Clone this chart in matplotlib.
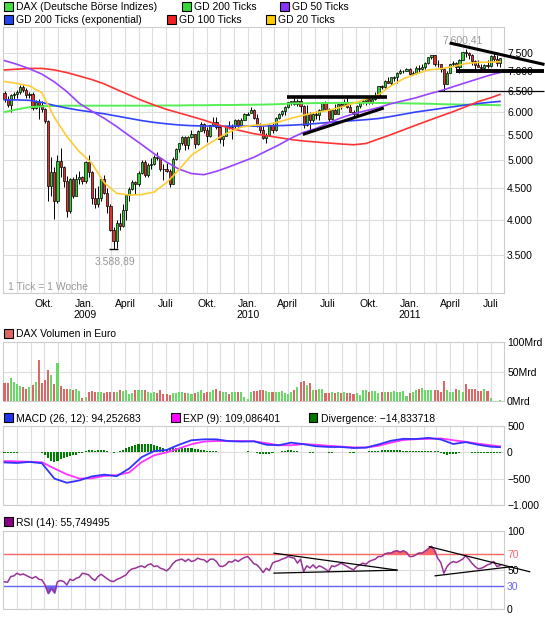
import numpy as np
import pandas as pd
import matplotlib
matplotlib.use('Agg')
import matplotlib.pyplot as plt
import matplotlib.dates as mdates
from matplotlib.patches import Rectangle

plt.rcParams['font.family'] = ['Liberation Sans', 'DejaVu Sans']
plt.rcParams['font.size'] = 7.5

# weekly DAX candles, first week ends 2008-07-04
opens = np.array([
    6440, 6290, 6170, 6390, 6410, 6480, 6600, 6520, 6400, 6420,
    6100, 6230, 6150, 6060, 5800, 4544, 4782, 4296, 4988, 4880,
    4630, 4127, 4669, 4381, 4660, 4697, 4629, 4973, 4783, 4335,
    4243, 4339, 4666, 4427, 4216, 3844, 3695, 3953, 3901, 4143,
    4384, 4486, 4606, 4570, 4770, 4967, 4738, 4917, 4940, 5064,
    5052, 4839, 4838, 4806, 4576, 5028, 5229, 5332, 5455, 5309,
    5462, 5517, 5318, 5592, 5736, 5604, 5488, 5711, 5784, 5673,
    5414, 5488, 5687, 5663, 5686, 5817, 5709, 5831, 5940, 5975,
    6037, 5875, 5696, 5608, 5434, 5500, 5722, 5598, 5877, 5945,
    6017, 6121, 6236, 6250, 6180, 6259, 6136, 5716, 5947, 5829,
    5960, 5938, 6049, 6216, 6071, 5835, 6048, 5959, 6179, 6170,
    6225, 6111, 6006, 5951, 6135, 6219, 6247, 6299, 6212, 6299,
    6378, 6620, 6601, 6750, 6693, 6830, 6849, 6947, 6990, 7008,
    7057, 6914, 6948, 7090, 7062, 7102, 7217, 7371, 7426, 7200,
    7178, 7064, 6664, 6947, 7176, 7217, 7110, 7296, 7514, 7492,
    7437, 7280, 7163, 7109, 7070, 7164, 7122, 7420, 7320, 7220])
highs = np.array([
    6500, 6380, 6420, 6480, 6520, 6640, 6650, 6560, 6470, 6480,
    6280, 6300, 6260, 6100, 5830, 5062, 4870, 5100, 5240, 4900,
    4720, 4680, 4700, 4750, 4800, 4720, 4990, 5111, 4800, 4500,
    4550, 4700, 4730, 4500, 4250, 3890, 4000, 4100, 4250, 4400,
    4520, 4650, 4620, 4800, 5010, 5000, 4950, 5050, 5100, 5160,
    5070, 4940, 4960, 4840, 5060, 5240, 5350, 5480, 5480, 5490,
    5600, 5530, 5600, 5780, 5760, 5680, 5720, 5890, 5880, 5700,
    5500, 5700, 5800, 5730, 5850, 5840, 5860, 5970, 6010, 6110,
    6080, 5950, 5760, 5690, 5550, 5730, 5750, 5890, 5970, 6050,
    6130, 6240, 6260, 6340, 6290, 6340, 6170, 6170, 6000, 6000,
    6030, 6070, 6240, 6250, 6090, 6080, 6180, 6190, 6200, 6300,
    6380, 6180, 6050, 6160, 6250, 6290, 6320, 6320, 6320, 6460,
    6620, 6640, 6770, 6850, 6850, 6860, 6970, 7050, 7030, 7080,
    7077, 7010, 7140, 7150, 7180, 7240, 7380, 7440, 7430, 7290,
    7200, 7070, 6990, 7190, 7260, 7240, 7320, 7530, 7600, 7530,
    7470, 7300, 7300, 7190, 7180, 7300, 7430, 7520, 7430, 7360])
lows = np.array([
    6240, 6120, 6000, 6300, 6330, 6430, 6480, 6330, 6330, 6040,
    6060, 5850, 6000, 5750, 4300, 4380, 4014, 4260, 4700, 4520,
    4040, 4100, 4350, 4380, 4580, 4580, 4600, 4700, 4250, 4180,
    4200, 4300, 4400, 4100, 3830, 3589, 3600, 3850, 3900, 3990,
    4300, 4470, 4400, 4550, 4750, 4700, 4690, 4850, 4920, 5000,
    4800, 4650, 4780, 4520, 4570, 5000, 5160, 5300, 5210, 5220,
    5450, 5250, 5300, 5580, 5540, 5370, 5460, 5700, 5620, 5350,
    5290, 5480, 5620, 5420, 5660, 5640, 5680, 5820, 5930, 5970,
    5850, 5670, 5540, 5420, 5340, 5490, 5550, 5590, 5840, 5920,
    5930, 6100, 6160, 6170, 6130, 6010, 5650, 5700, 5600, 5780,
    5850, 5820, 6040, 6060, 5800, 5820, 5950, 5950, 6080, 6140,
    6090, 5990, 5880, 5930, 6090, 6180, 6150, 6180, 6180, 6280,
    6330, 6540, 6560, 6690, 6640, 6740, 6700, 6930, 6950, 6990,
    6900, 6900, 6920, 6980, 7020, 7060, 7200, 7320, 7130, 7110,
    6980, 6500, 6660, 6940, 7140, 7020, 6950, 7290, 7380, 7330,
    7160, 7060, 7100, 7040, 7010, 7080, 7110, 7280, 7140, 7120])
closes = np.array([
    6290, 6170, 6390, 6410, 6480, 6590, 6520, 6400, 6420, 6100,
    6230, 6150, 6060, 5800, 4544, 4782, 4296, 4988, 4880, 4630,
    4127, 4669, 4381, 4660, 4697, 4629, 4973, 4783, 4335, 4243,
    4339, 4666, 4427, 4216, 3844, 3695, 3953, 3901, 4143, 4384,
    4486, 4606, 4570, 4770, 4967, 4738, 4917, 4940, 5064, 5052,
    4839, 4838, 4806, 4576, 5028, 5229, 5332, 5455, 5309, 5462,
    5517, 5318, 5592, 5736, 5604, 5488, 5711, 5784, 5673, 5414,
    5488, 5687, 5663, 5686, 5817, 5709, 5831, 5957, 5957, 6037,
    5875, 5696, 5608, 5434, 5500, 5722, 5598, 5877, 5945, 6017,
    6121, 6236, 6250, 6180, 6259, 6136, 5716, 5947, 5829, 5947,
    5938, 6049, 6216, 6071, 5835, 6048, 5959, 6179, 6148, 6225,
    6111, 6006, 5951, 6135, 6219, 6247, 6299, 6212, 6299, 6378,
    6605, 6601, 6750, 6693, 6848, 6849, 6947, 7007, 7008, 7057,
    6914, 6948, 7076, 7062, 7102, 7217, 7371, 7426, 7185, 7178,
    7064, 6664, 6947, 7176, 7217, 7110, 7296, 7514, 7492, 7437,
    7280, 7163, 7109, 7070, 7164, 7122, 7419, 7320, 7220, 7344])

# volume in Mrd Euro
volume = np.array([
    30, 30, 39, 33, 28, 25, 24, 21, 23, 27,
    32, 69, 31, 35, 52, 44, 28, 64, 25, 21,
    20, 20, 18, 20, 17, 5.6, 6.8, 15, 16.4, 15.3,
    14.7, 14.7, 13.5, 15.3, 15.3, 14.7, 14.7, 18, 16.4, 18,
    12.4, 13.5, 18, 18, 19, 18, 14.7, 13.5, 14.7, 14,
    18.6, 12.4, 11.9, 9.6, 13.5, 14, 15.3, 14.7, 13, 13.5,
    12.4, 13, 15.3, 19, 13.5, 15.3, 14.7, 18, 19.8, 17.5,
    15.3, 14.7, 12.4, 15.8, 15.8, 15.8, 15.8, 6.8, 2.8, 14.7,
    16.4, 16.4, 19, 19, 16.4, 15.8, 15.8, 14.7, 14.7, 17.5,
    13.5, 11.3, 14.7, 18, 23.7, 32, 33.9, 26.5, 30, 19.2,
    19.2, 20, 20, 13.5, 13.5, 15.8, 14, 14.7, 14, 14.7,
    14, 13, 11.9, 13, 10.7, 18, 18, 15.3, 16.9, 16.9,
    13.5, 14.7, 15.8, 15.8, 14.7, 16.4, 15.8, 14.7, 16.4, 7.9,
    14, 14.7, 19, 20.9, 22, 19, 18, 18, 18, 18,
    15.3, 33.9, 18, 15.8, 15.3, 20.9, 18, 15.3, 28, 20.3,
    20.3, 20.3, 17.5, 17.5, 20, 17, 5.6, 0, 0, 2.3])

# moving averages and MACD read every 4th week
ma_idx = list(range(0, 160, 4)) + [159]
gd200 = [6000, 6060, 6110, 6130, 6140, 6145, 6145, 6145, 6145, 6145,
         6145, 6145, 6145, 6150, 6150, 6155, 6155, 6160, 6160, 6165,
         6168, 6172, 6180, 6195, 6200, 6205, 6208, 6210, 6210, 6210,
         6208, 6205, 6200, 6195, 6190, 6180, 6175, 6170, 6165, 6160, 6155]
gd200_exp = [6280, 6280, 6270, 6220, 6150, 6090, 6040, 6000, 5960, 5910,
             5860, 5810, 5770, 5740, 5715, 5700, 5692, 5690, 5690, 5690,
             5690, 5695, 5700, 5710, 5725, 5745, 5770, 5790, 5810, 5830,
             5855, 5900, 5950, 6000, 6040, 6080, 6120, 6160, 6195, 6225, 6245]
gd100 = [7030, 7050, 7070, 7070, 7030, 6960, 6870, 6780, 6670, 6530,
         6400, 6270, 6160, 6060, 5980, 5900, 5820, 5730, 5650, 5590,
         5530, 5490, 5450, 5410, 5380, 5360, 5340, 5320, 5305, 5330,
         5420, 5510, 5610, 5710, 5810, 5910, 6010, 6120, 6240, 6330, 6410]
gd50 = [7280, 7180, 7060, 6920, 6720, 6480, 6200, 6020, 5860, 5680,
        5490, 5310, 5130, 4970, 4840, 4760, 4740, 4800, 4880, 4970,
        5060, 5180, 5300, 5440, 5560, 5640, 5760, 5870, 5960, 6030,
        6100, 6190, 6260, 6330, 6420, 6500, 6600, 6700, 6800, 6900, 6960]
gd20 = [6730, 6680, 6620, 6450, 5880, 5470, 5170, 4950, 4600, 4420,
        4390, 4400, 4440, 4600, 4830, 5100, 5260, 5420, 5560, 5670,
        5710, 5720, 5780, 5860, 5930, 5990, 6040, 6110, 6200, 6300,
        6400, 6620, 6800, 6920, 7030, 7060, 7120, 7200, 7230, 7240, 7250]
macd = [-195, -205, -185, -210, -500, -580, -535, -460, -425, -455,
        -310, -95, 20, 40, 140, 225, 242, 242, 208, 200,
        205, 140, 130, 180, 150, 112, 98, 97, 78, 85,
        145, 215, 252, 248, 270, 240, 154, 190, 140, 103, 94]
signal = [-168, -175, -182, -192, -310, -420, -500, -495, -450, -435,
          -385, -190, -60, -5, 70, 150, 200, 211, 211, 211,
          205, 170, 130, 130, 152, 140, 120, 105, 90, 88,
          120, 180, 230, 245, 250, 260, 225, 195, 160, 130, 109]
divergence = np.array([
    -25, -25, -20, -25, -20, 0, 10, 0, 10, 0,
    -5, 0, -10, -60, -110, -170, -190, -160, -130, -120,
    -100, -80, -60, -45, -25, -10, 20, 35, 40, 30,
    35, 45, 40, 25, 5, -10, 0, 25, 40, 70,
    90, 110, 130, 145, 150, 150, 150, 145, 130, 110,
    90, 70, 50, 60, 70, 80, 80, 80, 75, 70,
    70, 60, 50, 40, 35, 30, 25, 20, 15, 10,
    0, 0, 0, 0, 0, 0, 5, 10, 15, 10,
    0, -20, -35, -40, -40, -35, -25, -5, 5, 20,
    30, 35, 35, 30, 25, 10, 0, -5, -15, -15,
    -5, 0, 5, 10, -15, -15, 0, 5, 0, 0,
    5, -10, -10, 0, 5, 0, 10, 15, 20, 25,
    30, 35, 40, 40, 40, 40, 35, 35, 30, 25,
    20, 20, 15, 15, 20, 20, 20, 20, 20, 15,
    -10, -35, -45, -40, -35, -30, -10, 0, 5, 5,
    -10, -20, -25, -25, -20, -20, -15, -20, -15, -15])
rsi = np.array([
    35, 34.5, 41.7, 42.5, 45.9, 43.8, 45, 43, 41, 39.5,
    41.7, 38.3, 37.4, 31, 20.4, 26.8, 21.2, 35.3, 36.6, 35.3,
    31, 38.3, 36.6, 39.5, 40.8, 45.9, 45, 43.8, 39.5, 36.6,
    41.7, 44.6, 41.7, 38.7, 36.1, 35.3, 38, 39.5, 41.7, 43.8,
    48.9, 51.5, 52.3, 54, 55.3, 53.2, 56.6, 57.8, 54.4, 55.3,
    52.3, 51, 48.9, 52.3, 58, 61.7, 63, 63.8, 60.8, 63.8,
    60.8, 62, 65.1, 63.5, 63, 60, 63.8, 63.8, 60.8, 55,
    54.4, 56.6, 60.8, 60, 63, 60.8, 63.8, 65.9, 67.2, 63,
    58, 56.6, 52.3, 46.8, 52.3, 49.3, 58.7, 60.8, 61.7, 63.8,
    65, 67.2, 65.9, 65.1, 58.7, 63.8, 48, 55.3, 52.5, 56.6,
    52.3, 55.3, 53.6, 51, 48, 55.3, 54.4, 56.6, 58.7, 56.6,
    54.4, 52, 50.2, 54.4, 56.6, 58.7, 57.4, 60.8, 62.5, 63.8,
    67.2, 67.2, 70.2, 71.5, 71.5, 73.6, 74.4, 72.7, 74.4, 72.3,
    67.2, 67.2, 69.3, 71.5, 71.5, 74, 77, 80, 74.9, 65.1,
    59.5, 45.9, 54.4, 58.7, 60.8, 59.5, 61.5, 63.8, 68, 63.8,
    58.7, 54.4, 51.5, 52.3, 54, 56.6, 58, 60.8, 54.4, 55.7])

price_ticks = [3500, 4000, 4500, 5000, 5500, 6000, 6500, 7000, 7500]
price_labels = ['3.500', '4.000', '4.500', '5.000', '5.500', '6.000', '6.500', '7.000', '7.500']

W, H = 545, 618
fig = plt.figure(figsize=(W / 100, H / 100), dpi=100)


def rect(top, bottom):
    return [3 / W, 1 - bottom / H, 500.5 / W, (bottom - top) / H]


ax_p = fig.add_axes(rect(27, 293))
ax_v = fig.add_axes(rect(342, 401))
ax_m = fig.add_axes(rect(425.7, 505))
ax_r = fig.add_axes(rect(530.7, 609.3))

weeks = pd.date_range('2008-07-04', periods=len(closes), freq='7D')
x = mdates.date2num(weeks)
xm = x[ma_idx]

months = pd.date_range('2008-08-01', '2011-07-01', freq='MS')
mlabels = []
for d in months:
    if d.month == 1:
        mlabels.append('Jan.\n%d' % d.year)
    elif d.month == 4:
        mlabels.append('April')
    elif d.month == 7:
        mlabels.append('Juli')
    elif d.month == 10:
        mlabels.append('Okt.')
    else:
        mlabels.append('')

for ax in [ax_p, ax_v, ax_m, ax_r]:
    ax.set_xlim(x[0] - 3.4, x[-1] + 7.9)
    ax.set_xticks(mdates.date2num(months))
    ax.set_xticklabels(mlabels if ax is ax_p else [''] * len(months))
    ax.yaxis.tick_right()
    ax.tick_params(length=0, labelsize=7.5)
    ax.tick_params(axis='y', pad=2.6)
    ax.tick_params(axis='x', pad=4)
    ax.grid(True, color='#dddddd', lw=0.8)
    ax.set_axisbelow(True)
    for s in ax.spines.values():
        s.set_color('#cccccc')

# price panel
ax_p.set_yscale('log')
ax_p.set_ylim(3037, 8262)
ax_p.set_yticks(price_ticks)
ax_p.set_yticklabels(price_labels)
ax_p.yaxis.set_minor_locator(matplotlib.ticker.NullLocator())

up = closes >= opens
ax_p.vlines(x, lows, highs, color='black', lw=0.7, zorder=3)
ax_p.bar(x, np.maximum(np.abs(closes - opens), 1), bottom=np.minimum(opens, closes),
         width=4.9, color=np.where(up, '#33cc33', '#e03030'), edgecolor='black', lw=0.5, zorder=4)

ax_p.plot(xm, gd200, color='#55ee55', lw=1.4, zorder=5)
ax_p.plot(xm, gd200_exp, color='#3344ff', lw=1.2, zorder=5)
ax_p.plot(xm, gd100, color='#ff3333', lw=1.2, zorder=5)
ax_p.plot(xm, gd50, color='#9944ff', lw=1.2, zorder=5)
ax_p.plot(xm, gd20, color='#ffcc33', lw=1.2, zorder=5)

lo = int(np.argmin(lows))
hi = int(np.argmax(highs))
ax_p.hlines(lows[lo], x[lo] - 10, x[lo] + 10, color='black', lw=1, zorder=4)
ax_p.annotate('3.588,89', (x[lo], lows[lo]), xytext=(1, -9), textcoords='offset points',
              ha='center', va='center', color='#999999')
ax_p.annotate('7.600,41', (x[hi], highs[hi]), xytext=(-2, 6), textcoords='offset points',
              ha='center', va='center', color='#999999')
ax_p.text(0.01, 0.024, '1 Tick = 1 Woche', transform=ax_p.transAxes, color='#999999', va='center')


def trend(ax, p0, p1, lw):
    xs = mdates.date2num([pd.Timestamp(p0[0]), pd.Timestamp(p1[0])])
    ax.plot(xs, [p0[1], p1[1]], color='black', lw=lw, zorder=7, clip_on=False,
            solid_capstyle='butt')


trend(ax_p, ('2010-03-30', 6350), ('2010-11-10', 6350), 2.6)
trend(ax_p, ('2010-05-05', 5515), ('2010-11-03', 6092), 2.2)
trend(ax_p, ('2011-03-31', 7780), ('2011-10-30', 7175), 2.2)
trend(ax_p, ('2011-04-14', 7000), ('2011-10-30', 7000), 2.8)
trend(ax_p, ('2011-03-04', 6500), ('2011-10-30', 6500), 0.9)

# volume panel
ax_v.set_ylim(0, 100)
ax_v.set_yticks([0, 50, 100])
ax_v.set_yticklabels(['0Mrd', '50Mrd', '100Mrd'])
ax_v.bar(x, volume, width=4.6, color=np.where(up, '#66d966', '#dd6666'), zorder=3)

# MACD panel
ax_m.set_ylim(-1000, 500)
ax_m.set_yticks([-1000, -500, 0, 500])
ax_m.set_yticklabels(['\u22121.000', '\u2212500', '0', '500'])
ax_m.bar(x, divergence, width=4.6, color='#008000', zorder=3)
ax_m.plot(xm, signal, color='#ff33ff', lw=1.3, zorder=4)
ax_m.plot(xm, macd, color='#3333ff', lw=1.3, zorder=5)

# RSI panel
ax_r.set_ylim(0, 100)
ax_r.set_yticks([0, 30, 50, 70, 100])
ax_r.set_yticklabels(['0', '30', '50', '70', '100'])
tl = ax_r.get_yticklabels()
tl[1].set_color('#6666ff')
tl[3].set_color('#ff6666')
ax_r.axhline(70, color='#ff6666', lw=1, zorder=2)
ax_r.axhline(30, color='#6666ff', lw=1, zorder=2)
ax_r.fill_between(x, rsi, 70, where=rsi > 70, interpolate=True, color='#ff6666', zorder=3)
ax_r.fill_between(x, rsi, 30, where=rsi < 30, interpolate=True, color='#6666ff', zorder=3)
ax_r.plot(x, rsi, color='#993399', lw=1.1, zorder=4)
trend(ax_r, ('2010-02-28', 71.5), ('2010-12-04', 49.8), 0.9)
trend(ax_r, ('2010-02-28', 46.0), ('2010-12-04', 49.8), 0.9)
trend(ax_r, ('2011-02-12', 79.9), ('2011-09-28', 47.6), 0.9)
trend(ax_r, ('2011-02-25', 42.5), ('2011-08-20', 54.4), 0.9)


def legend(px, py, color, text):
    fig.add_artist(Rectangle((px / W, 1 - (py + 4.5) / H), 9 / W, 9 / H, transform=fig.transFigure,
                             facecolor=color, edgecolor='black', lw=0.8))
    fig.text((px + 12.2) / W, 1 - py / H, text, va='center_baseline', ha='left', fontsize=7.5)


legend(3.5, 6, '#44dd44', 'DAX (Deutsche Börse Indizes)')
legend(181.7, 6, '#33dd33', 'GD 200 Ticks')
legend(280, 6, '#8833ff', 'GD 50 Ticks')
legend(3.5, 19, '#2244ee', 'GD 200 Ticks (exponential)')
legend(167, 19, '#ee2222', 'GD 100 Ticks')
legend(265.5, 19, '#ffcc00', 'GD 20 Ticks')
legend(3.5, 333, '#dd6666', 'DAX Volumen in Euro')
legend(3.5, 417.7, '#2233ee', 'MACD (26, 12): 94,252683')
legend(170.5, 417.7, '#ff00ff', 'EXP (9): 109,086401')
legend(308.5, 417.7, '#007700', 'Divergence: \u221214,833718')
legend(3.5, 521.7, '#880088', 'RSI (14): 55,749495')

fig.savefig('out.png', dpi=100)
